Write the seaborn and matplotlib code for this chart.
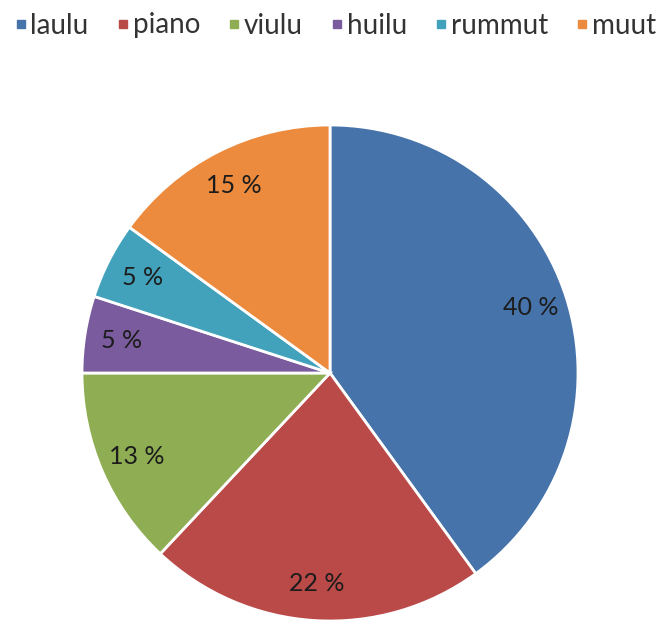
import matplotlib
matplotlib.use("Agg")
import matplotlib.pyplot as plt
from matplotlib.lines import Line2D
import seaborn as sns
import numpy as np

categories = ["laulu", "piano", "viulu", "huilu", "rummut", "muut"]
values = [40, 22, 13, 5, 5, 15]
pct_labels = ["40 %", "22 %", "13 %", "5 %", "5 %", "15 %"]
colors = ["#4673AA", "#B94A48", "#8FAE54", "#7A5B9E", "#42A2BB", "#EC8B3E"]

sns.set_theme(style="white")
plt.rcParams['font.family'] = ['Lato', 'DejaVu Sans']
palette = sns.color_palette(colors)

fig = plt.figure(figsize=(6.68, 6.26), dpi=100)
cx, cy, r = 330, 373, 248
W, H = 668, 626
ax = fig.add_axes([(cx - r) / W, (H - cy - r) / H, 2 * r / W, 2 * r / H])

wedges, texts = ax.pie(values, colors=palette, startangle=90, counterclock=False,
                       radius=1, wedgeprops=dict(edgecolor="white", linewidth=2))
for w, lab in zip(wedges, pct_labels):
    ang = np.deg2rad((w.theta1 + w.theta2) / 2)
    ax.text(0.85 * np.cos(ang), 0.85 * np.sin(ang), lab, ha="center", va="center",
            fontsize=18, color="#1c1c1c")
ax.set_xlim(-1, 1)
ax.set_ylim(-1, 1)
ax.set_aspect("equal")
ax.axis("off")
for w in wedges:
    w.set_clip_on(False)

handles = [Line2D([0], [0], marker="s", linestyle="none", markersize=6,
                  markerfacecolor=c, markeredgecolor=c) for c in palette]
leg = fig.legend(handles, categories, loc="upper left", bbox_to_anchor=(0.006, 1.0),
                 ncol=6, frameon=False, fontsize=20, handletextpad=0.2,
                 columnspacing=1.08, handlelength=0.3, borderaxespad=0.0,
                 borderpad=0.45)
for t in leg.get_texts():
    t.set_color("#333333")

fig.savefig("out.png", dpi=100)
